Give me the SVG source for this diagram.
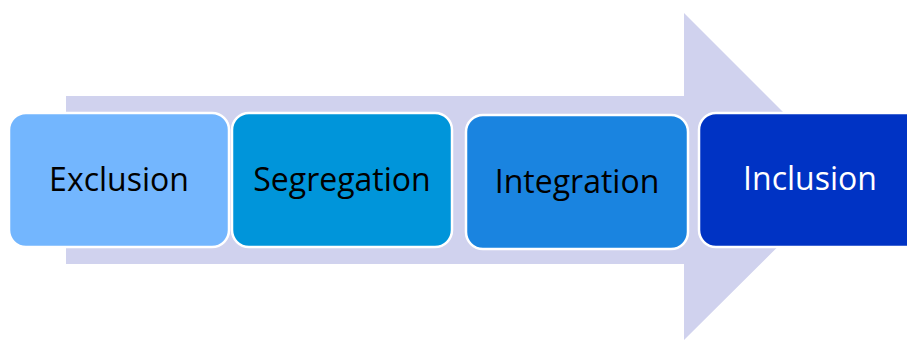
<svg xmlns="http://www.w3.org/2000/svg" width="907" height="340" viewBox="0 0 907 340">
<style>
.box{stroke:#ffffff;stroke-width:2.5}
.lbl{font-family:"Open Sans","Noto Sans",sans-serif;font-size:32px;text-anchor:middle;dominant-baseline:central}
</style>
<rect width="907" height="340" fill="#ffffff"/>
<g id="arrow">
<polygon points="66,96 684,96 684,13 848,177 684,340 684,264 66,264" fill="#d0d2ee"/>
</g>
<g id="exclusion">
<rect class="box" x="9" y="113" width="220" height="134" rx="17" fill="#73b6fe"/>
<text class="lbl" x="119" y="178" fill="#000000">Exclusion</text>
</g>
<g id="segregation">
<rect class="box" x="232" y="113" width="220" height="134" rx="17" fill="#0095da"/>
<text class="lbl" x="342" y="178" fill="#000000">Segregation</text>
</g>
<g id="integration">
<rect class="box" x="466" y="115" width="222" height="134" rx="17" fill="#1a84e0"/>
<text class="lbl" x="577" y="180" fill="#000000">Integration</text>
</g>
<g id="inclusion">
<rect class="box" x="699" y="113" width="224" height="134" rx="17" fill="#0033c4"/>
<text class="lbl" x="810" y="177" fill="#ffffff">Inclusion</text>
</g>
<g id="connectors"></g>
</svg>
